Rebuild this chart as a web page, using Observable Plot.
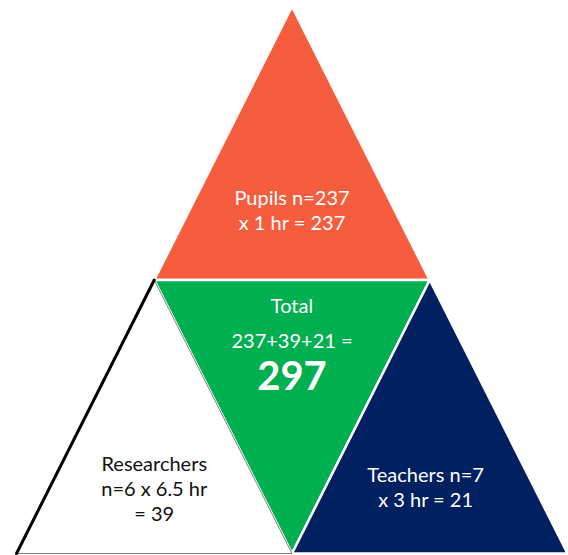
<!DOCTYPE html>
<html>
<head>
<meta charset="utf-8">
<script src="https://cdn.jsdelivr.net/npm/d3@7"></script>
<script src="https://cdn.jsdelivr.net/npm/@observablehq/plot@0.6"></script>
<style>
  html, body { margin: 0; padding: 0; background: #fff; }
  svg { display: block; }
</style>
</head>
<body>
<div id="chart"></div>
<script>
// Triangle lattice: a big triangle split into four (u across, v upward)
const groups = ["Pupils", "Total", "Researchers", "Teachers"];
const colors = ["#F55D3E", "#00B050", "#FFFFFF", "#002060"];
const cornersU = [[1, 3, 2], [1, 3, 2], [0, 2, 1], [2, 4, 3]];
const cornersV = [[1, 1, 2], [1, 1, 0], [0, 0, 1], [0, 0, 1]];

// Labels
const labelText = ["Pupils n=237\nx 1 hr = 237", "Total", "237+39+21 =", "Researchers\nn=6 x 6.5 hr\n= 39", "Teachers n=7\nx 3 hr = 21"];
const labelU = [2, 2, 2, 1, 2.97];
const labelV = [1.256, 0.907, 0.779, 0.241, 0.245];
const labelColor = ["#fff", "#fff", "#fff", "#111", "#fff"];
const totalText = ["297"];
const totalU = [2];
const totalV = [0.644];

const polys = [];
groups.forEach((g, i) => {
  for (let k = 0; k < 3; k++) polys.push({group: g, u: cornersU[i][k], v: cornersV[i][k]});
});
const labels = labelText.map((t, i) => ({t, u: labelU[i], v: labelV[i], c: labelColor[i]}));
const totals = totalText.map((t, i) => ({t, u: totalU[i], v: totalV[i]}));
const whiteLeft = polys.filter(d => d.group === "Researchers").filter((d, i) => i !== 1);

const plot = Plot.plot({
  width: 568,
  height: 555,
  margin: 0,
  x: {domain: [0, 4], range: [16, 567], axis: null},
  y: {domain: [0, 2], range: [553, 6], axis: null},
  color: {domain: groups, range: colors},
  style: {fontFamily: "Lato, 'Open Sans', sans-serif", background: "#fff"},
  marks: [
    Plot.line(polys.filter(d => d.group !== "Researchers"), {
      x: "u", y: "v", z: "group", fill: "group", stroke: "#fff", strokeWidth: 2.5, curve: "linear-closed"
    }),
    Plot.line(polys.filter(d => d.group === "Researchers"), {
      x: "u", y: "v", z: "group", fill: "#fff", stroke: "#7f7f7f", strokeWidth: 1, curve: "linear-closed"
    }),
    Plot.line(whiteLeft, {x: "u", y: "v", stroke: "#000", strokeWidth: 3}),
    Plot.text(labels, {
      x: "u", y: "v", text: "t", fill: "c", fontSize: 20, lineHeight: 1.25
    }),
    Plot.text(totals, {
      x: "u", y: "v", text: "t", fill: "#fff", fontSize: 40, fontWeight: "bold"
    })
  ]
});
document.getElementById("chart").appendChild(plot);
</script>
</body>
</html>
